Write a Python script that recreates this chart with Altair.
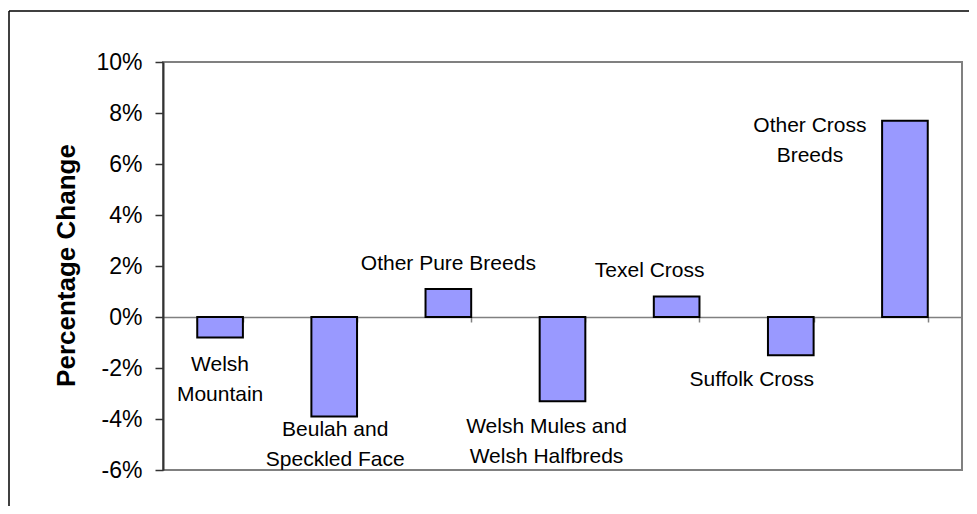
import altair as alt
import pandas as pd

# ---- data ----
categories = [
    "Welsh Mountain",
    "Beulah and Speckled Face",
    "Other Pure Breeds",
    "Welsh Mules and Welsh Halfbreds",
    "Texel Cross",
    "Suffolk Cross",
    "Other Cross Breeds",
]
changes = [-0.008, -0.039, 0.011, -0.033, 0.008, -0.015, 0.077]
label_text = [
    "Welsh\nMountain",
    "Beulah and\nSpeckled Face",
    "Other Pure Breeds",
    "Welsh Mules and\nWelsh Halfbreds",
    "Texel Cross",
    "Suffolk Cross",
    "Other Cross\nBreeds",
]
y_ticks = [-0.06, -0.04, -0.02, 0.0, 0.02, 0.04, 0.06, 0.08, 0.10]

df = pd.DataFrame({"category": categories, "change": changes, "label": label_text})

# label placement offsets (style): px from bar centre / bar end
label_offsets = [(0, 34), (1, 20), (0, -19), (-16, 32), (-27, -20), (-39, 31), (-95, 11)]

FONT = "Liberation Sans"

x_enc = alt.X(
    "category:N",
    sort=categories,
    scale=alt.Scale(paddingInner=0.6, paddingOuter=0.3),
    axis=alt.Axis(
        labels=False, title=None, offset=-153,
        domainColor="#808080", domainWidth=1.5,
        tickColor="#808080", tickWidth=1.5, tickSize=5,
        tickBand="extent",
    ),
)
y_enc = alt.Y(
    "change:Q",
    scale=alt.Scale(domain=[-0.06, 0.10], nice=False),
    axis=alt.Axis(
        values=y_ticks,
        labelExpr="(datum.value < -0.0001 ? '-' : '') + format(abs(datum.value), '.0%')",
        title="Percentage Change",
        titleFont=FONT, titleFontSize=26, titleFontWeight="bold", titleColor="black",
        titleX=-97, titleY=203, titleBaseline="middle", titleAngle=-90,
        grid=False,
        domainColor="#333333", domainWidth=2,
        tickColor="#333333", tickWidth=1.5, tickSize=8,
        labelFont=FONT, labelFontSize=23, labelColor="black", labelPadding=13,
    ),
)

base = alt.Chart(df)

bars = base.mark_bar(color="#9999FF", stroke="black", strokeWidth=2).encode(x=x_enc, y=y_enc)

layers = [bars]
for cat, (dx, dy) in zip(categories, label_offsets):
    layers.append(
        base.transform_filter(alt.datum.category == cat)
        .mark_text(
            dx=dx, dy=dy, align="center", baseline="alphabetic",
            lineBreak="\n", lineHeight=30,
            font=FONT, fontSize=21, color="black",
        )
        .encode(x=x_enc, y=y_enc, text="label:N")
    )

# outer chart frame: only top and left edges are inside the picture
frame_top = alt.Chart(pd.DataFrame({"k": [0]})).mark_rule(
    stroke="black", strokeWidth=1.5
).encode(x=alt.value(-154), x2=alt.value(900), y=alt.value(-51))
frame_left = alt.Chart(pd.DataFrame({"k": [0]})).mark_rule(
    stroke="black", strokeWidth=1.5
).encode(x=alt.value(-154), y=alt.value(-51), y2=alt.value(600))
layers += [frame_top, frame_left]

chart = (
    alt.layer(*layers)
    .properties(
        width=799, height=408,
        autosize="none",
        padding={"left": 155, "top": 54, "right": 7, "bottom": 36},
        background="white",
    )
    .configure_view(stroke="#808080", strokeWidth=2)
)

chart.save("out.html", embed_options={"renderer": "svg", "actions": False})
